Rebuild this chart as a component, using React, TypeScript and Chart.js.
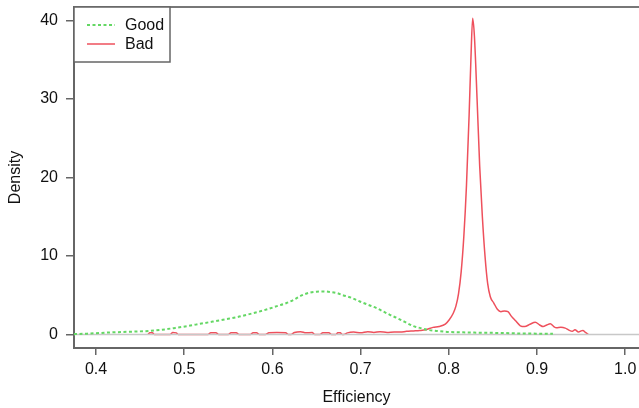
import { useEffect, useRef } from 'react';
import { Chart, registerables } from 'chart.js';

Chart.register(...registerables);

const seriesNames = ['Good', 'Bad'];

const goodX = [0.375, 0.39, 0.416, 0.44, 0.461, 0.475, 0.488, 0.503, 0.518, 0.533, 0.548, 0.56, 0.571, 0.583, 0.594, 0.605, 0.616, 0.624, 0.631, 0.637, 0.643, 0.65, 0.658, 0.665, 0.673, 0.68, 0.69, 0.699, 0.708, 0.718, 0.726, 0.733, 0.741, 0.75, 0.76, 0.768, 0.775, 0.786, 0.798, 0.81, 0.835, 0.86, 0.88, 0.9, 0.918];
const goodY = [0.05, 0.1, 0.25, 0.35, 0.45, 0.6, 0.8, 1.05, 1.35, 1.65, 1.95, 2.2, 2.5, 2.85, 3.2, 3.6, 4.0, 4.4, 4.85, 5.15, 5.35, 5.45, 5.48, 5.42, 5.27, 5.0, 4.65, 4.2, 3.8, 3.35, 2.9, 2.5, 2.1, 1.6, 1.05, 0.8, 0.6, 0.45, 0.32, 0.28, 0.22, 0.18, 0.12, 0.1, 0.08];

const badX = [0.459, 0.461, 0.464, 0.466, 0.484, 0.487, 0.491, 0.493, 0.527, 0.53, 0.536, 0.539, 0.55, 0.553, 0.559, 0.562, 0.575, 0.578, 0.582, 0.585, 0.592, 0.596, 0.605, 0.615, 0.618, 0.621, 0.625, 0.632, 0.638, 0.645, 0.648, 0.654, 0.657, 0.664, 0.667, 0.672, 0.674, 0.677, 0.679, 0.681, 0.685, 0.692, 0.7, 0.708, 0.715, 0.722, 0.73, 0.738, 0.745, 0.752, 0.76, 0.767, 0.774, 0.782, 0.789, 0.796, 0.8, 0.805, 0.808, 0.811, 0.814, 0.817, 0.82, 0.823, 0.825, 0.827, 0.829, 0.832, 0.835, 0.838, 0.841, 0.844, 0.847, 0.851, 0.855, 0.859, 0.863, 0.867, 0.871, 0.876, 0.881, 0.886, 0.892, 0.898, 0.903, 0.907, 0.911, 0.915, 0.919, 0.922, 0.927, 0.932, 0.936, 0.94, 0.943, 0.947, 0.95, 0.952, 0.955, 0.958];
const badY = [0, 0.2, 0.2, 0, 0, 0.25, 0.2, 0, 0, 0.2, 0.2, 0, 0, 0.2, 0.2, 0, 0, 0.2, 0.2, 0, 0, 0.2, 0.25, 0.2, 0, 0, 0.25, 0.35, 0.2, 0.25, 0, 0, 0.2, 0.2, 0, 0, 0.2, 0.2, 0, 0, 0.2, 0.3, 0.2, 0.35, 0.25, 0.35, 0.25, 0.3, 0.3, 0.4, 0.45, 0.5, 0.6, 0.9, 1.0, 1.3, 1.8, 2.7, 3.6, 5.2, 8, 12.5, 19, 28, 35, 40.3, 38, 30, 21.4, 15, 10, 6.5, 4.8, 4.0, 3.2, 2.9, 3.0, 2.9, 2.3, 1.7, 1.1, 1.0, 1.3, 1.55, 1.2, 1.0, 1.2, 1.35, 1.0, 0.85, 0.9, 0.8, 0.55, 0.4, 0.6, 0.3, 0.45, 0.5, 0.25, 0];

const xTicks = [0.4, 0.5, 0.6, 0.7, 0.8, 0.9, 1.0];
const yTicks = [0, 10, 20, 30, 40];

const GREEN = 'rgb(100,215,100)';
const RED = 'rgb(238,80,92)';
const AXIS = '#666';
const FONT = "'Liberation Sans', Arial, Helvetica, sans-serif";
const FS = 16;

const decorPlugin = {
  id: 'decor',
  afterDatasetDraw(chart: any, args: any) {
    if (args.index !== 1) return;
    const { ctx, chartArea } = chart;
    const y0 = chart.scales.y.getPixelForValue(0);
    ctx.save();
    ctx.strokeStyle = '#c8c8c8';
    ctx.lineWidth = 1.5;
    ctx.beginPath();
    ctx.moveTo(chartArea.left, y0);
    ctx.lineTo(chartArea.right, y0);
    ctx.stroke();
    ctx.restore();
  },
  afterDraw(chart: any) {
    const { ctx, chartArea } = chart;
    const l = chartArea.left;
    const t = chartArea.top;
    ctx.save();
    ctx.strokeStyle = '#777';
    ctx.lineWidth = 2;
    ctx.beginPath();
    ctx.moveTo(l, t);
    ctx.lineTo(chartArea.right, t);
    ctx.stroke();
    ctx.fillStyle = '#fff';
    ctx.fillRect(l, t, 96, 55);
    ctx.strokeStyle = AXIS;
    ctx.lineWidth = 1.5;
    ctx.strokeRect(l, t, 96, 55);
    const colors = [GREEN, RED];
    const dashes = [[3, 2.5], []];
    const widths = [2, 1.5];
    seriesNames.forEach((name, i) => {
      const yy = t + 18 + i * 19;
      ctx.strokeStyle = colors[i];
      ctx.lineWidth = widths[i];
      ctx.setLineDash(dashes[i]);
      ctx.beginPath();
      ctx.moveTo(l + 13, yy);
      ctx.lineTo(l + 41, yy);
      ctx.stroke();
      ctx.setLineDash([]);
      ctx.fillStyle = '#111';
      ctx.font = `${FS}px ${FONT}`;
      ctx.textBaseline = 'middle';
      ctx.textAlign = 'left';
      ctx.fillText(name, l + 51, yy + 1);
    });
    ctx.restore();
  },
};

export default function App() {
  const ref = useRef<HTMLCanvasElement>(null);
  useEffect(() => {
    document.body.style.margin = '0';
    const canvas = ref.current;
    if (!canvas) return;
    Chart.defaults.font.family = FONT;
    Chart.defaults.font.size = FS;
    const chart = new Chart(canvas, {
      type: 'line',
      data: {
        datasets: [
          {
            label: seriesNames[0],
            data: goodX.map((x, i) => ({ x, y: goodY[i] })),
            borderColor: GREEN,
            borderWidth: 2,
            borderDash: [3, 2.5],
            pointRadius: 0,
            cubicInterpolationMode: 'monotone',
            fill: false,
            order: 0,
          },
          {
            label: seriesNames[1],
            data: badX.map((x, i) => ({ x, y: badY[i] })),
            borderColor: RED,
            borderWidth: 1.5,
            pointRadius: 0,
            cubicInterpolationMode: 'monotone',
            fill: false,
            order: 1,
          },
        ],
      },
      options: {
        responsive: false,
        animation: false,
        layout: { padding: { top: 7, left: 0, right: 0, bottom: 0 } },
        plugins: { legend: { display: false }, tooltip: { enabled: false } },
        scales: {
          x: {
            type: 'linear',
            min: 0.375,
            max: 1.0156,
            afterBuildTicks: (s: any) => {
              s.ticks = xTicks.map((v) => ({ value: v }));
            },
            afterFit: (s: any) => {
              s.height = 60;
              s.paddingLeft = 0;
              s.paddingRight = 0;
            },
            ticks: {
              autoSkip: false,
              maxRotation: 0,
              padding: 5,
              color: '#111',
              font: { size: FS },
              callback: (v: any) => Number(v).toFixed(1),
            },
            grid: { drawOnChartArea: false, drawTicks: true, tickLength: 7, color: AXIS, lineWidth: 1.5 },
            border: { display: true, color: AXIS, width: 2 },
            title: { display: true, text: 'Efficiency', color: '#111', font: { size: FS }, padding: { top: 0, bottom: 1 } },
          },
          y: {
            type: 'linear',
            min: -1.73,
            max: 41.72,
            afterBuildTicks: (s: any) => {
              s.ticks = yTicks.map((v) => ({ value: v }));
            },
            afterFit: (s: any) => {
              s.width = 74;
              s.paddingTop = 0;
              s.paddingBottom = 0;
            },
            ticks: {
              autoSkip: false,
              padding: 8,
              color: '#111',
              font: { size: FS },
              callback: (v: any) => String(v),
            },
            grid: { drawOnChartArea: false, drawTicks: true, tickLength: 8, color: AXIS, lineWidth: 1.5 },
            border: { display: true, color: AXIS, width: 2 },
            title: { display: true, text: 'Density', color: '#111', font: { size: FS }, padding: { top: 6, bottom: 0 } },
          },
        },
      },
      plugins: [decorPlugin],
    } as any);
    return () => chart.destroy();
  }, []);
  return (
    <div style={{ width: 639, height: 408 }}>
      <canvas ref={ref} width={639} height={408} style={{ display: 'block' }} />
    </div>
  );
}
